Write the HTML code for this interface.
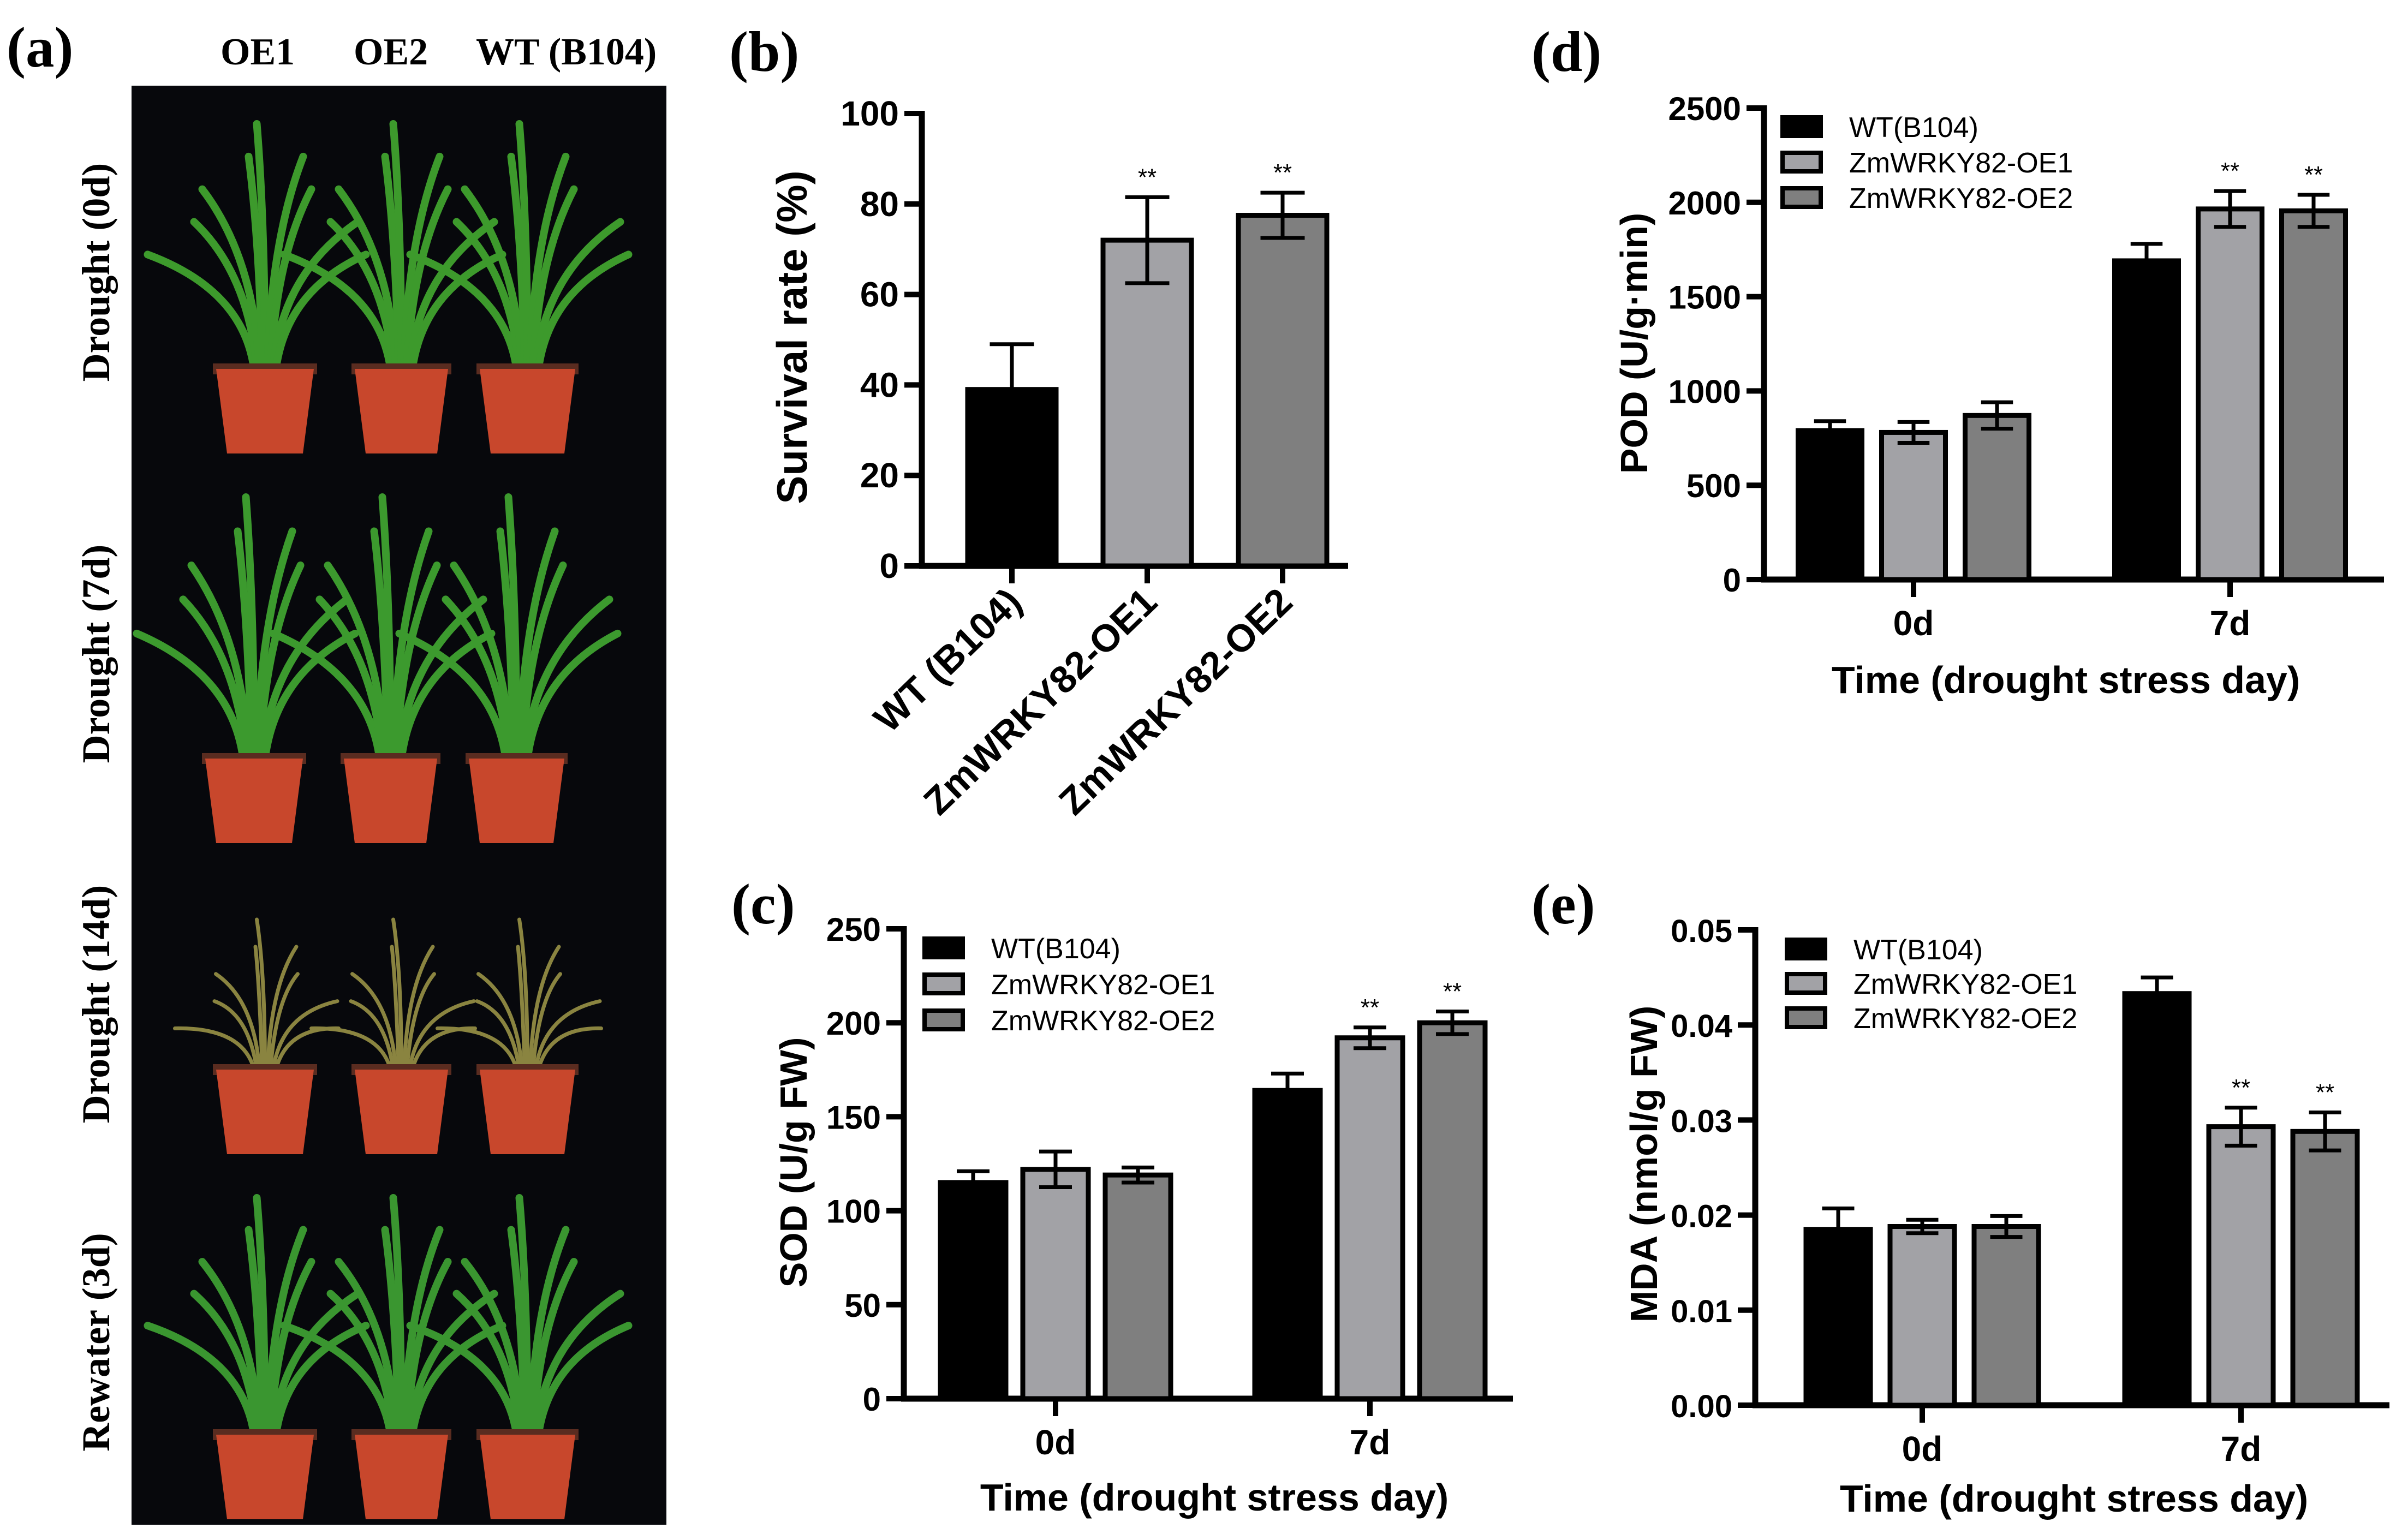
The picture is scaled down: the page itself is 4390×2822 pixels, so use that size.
<!DOCTYPE html>
<html><head><meta charset="utf-8">
<style>
html,body{margin:0;padding:0;background:#fff;}
svg{display:block;}
</style></head>
<body>
<svg id="fig" xmlns="http://www.w3.org/2000/svg" width="4390" height="2822" viewBox="0 0 4390 2822">
<rect width="4390" height="2822" fill="#fff"/>
<g>
<text x="12" y="122" font-family="Liberation Serif, serif" font-weight="bold" font-size="105">(a)</text>
<text x="404" y="118" font-family="Liberation Serif, serif" font-weight="bold" font-size="70">OE1</text>
<text x="648" y="118" font-family="Liberation Serif, serif" font-weight="bold" font-size="70">OE2</text>
<text x="872" y="118" font-family="Liberation Serif, serif" font-weight="bold" font-size="70">WT (B104)</text>
<g id="photos"></g>
</g>
<g id="charts"></g>
</svg>
<script>
// ===== Data =====
const survCats = ["WT (B104)", "ZmWRKY82-OE1", "ZmWRKY82-OE2"];
const survVals = [39, 72, 77.5];
const survErr = [10, 9.5, 5];
const survSig = ["", "**", "**"];
const survTicks = [0, 20, 40, 60, 80, 100];

const timeCats = ["0d", "7d"];
const seriesNames = ["WT(B104)", "ZmWRKY82-OE1", "ZmWRKY82-OE2"];
const sodWT = [115, 164];
const sodOE1 = [122, 192];
const sodOE2 = [119, 200];
const sodErrWT = [6, 9];
const sodErrOE1 = [9.5, 5.5];
const sodErrOE2 = [4, 6];
const sodSig = [["", ""], ["", "**"], ["", "**"]];
const sodTicks = [0, 50, 100, 150, 200, 250];
const podWT = [790, 1690];
const podOE1 = [780, 1965];
const podOE2 = [870, 1955];
const podErrWT = [50, 90];
const podErrOE1 = [55, 95];
const podErrOE2 = [70, 85];
const podSig = [["", ""], ["", "**"], ["", "**"]];
const podTicks = [0, 500, 1000, 1500, 2000, 2500];
const mdaWT = [0.0185, 0.0433];
const mdaOE1 = [0.0188, 0.0293];
const mdaOE2 = [0.0188, 0.0288];
const mdaErrWT = [0.0022, 0.0017];
const mdaErrOE1 = [0.0007, 0.002];
const mdaErrOE2 = [0.0011, 0.002];
const mdaSig = [["", ""], ["", "**"], ["", "**"]];
const mdaTicks = ["0.00", "0.01", "0.02", "0.03", "0.04", "0.05"];

// ===== Rendering =====
const NS = "http://www.w3.org/2000/svg";
const SANS = "Liberation Sans, Arial, sans-serif";
const fills = ["#000000", "#a2a2a6", "#7f7f7f"];
const charts = document.getElementById("charts");
function mk(tag, attrs, parent) {
  const e = document.createElementNS(NS, tag);
  for (const k in attrs) e.setAttribute(k, attrs[k]);
  (parent || charts).appendChild(e);
  return e;
}
function txt(s, attrs, parent) { const t = mk("text", attrs, parent); t.textContent = s; return t; }

function drawAxes(g, c, ticks) {
  const y = v => c.y0 - (v - c.min) / (c.max - c.min) * (c.y0 - c.yTop);
  const ya = mk("line", {x1: c.x0, y1: c.yTop - 5, x2: c.x0, y2: c.y0 + 5, stroke: "#000", "stroke-width": 11}, g);
  
  
  const xa = mk("line", {x1: c.x0 - 5, y1: c.y0, x2: c.xEnd, y2: c.y0, stroke: "#000", "stroke-width": 11}, g);
  
  
  ticks.forEach(t => {
    const v = parseFloat(t);
    const yy = y(v);
    const tl = mk("line", {x1: c.x0 - 32, y1: yy, x2: c.x0, y2: yy, stroke: "#000", "stroke-width": 10}, g);
    
    
    const lb = txt(String(t), {x: c.x0 - 42, y: yy + 22, "text-anchor": "end", "font-family": SANS, "font-weight": "bold", "font-size": c.tickFont || 62}, g);
    
    
  });
  return y;
}
function drawBar(g, x, w, yv, y0, fill, name) {
  const r = mk("rect", {x: x, y: yv, width: w, height: y0 - yv, fill: fill, stroke: "#000", "stroke-width": 9}, g);
  
  
}
function drawErr(g, cx, yHi, yLo, capW) {
  const l = mk("path", {d: `M${cx},${yLo}V${yHi}M${cx - capW / 2},${yHi}H${cx + capW / 2}M${cx - capW / 2},${yLo}H${cx + capW / 2}`, stroke: "#000", "stroke-width": 7, fill: "none"}, g);
  
  
}
function drawSig(g, cx, yy, s) {
  if (!s) return;
  const t = txt(s, {x: cx, y: yy, "text-anchor": "middle", "font-family": SANS, "font-size": 44}, g);
  
  
}

(function () {
  const g = mk("g", {});
  
  
  const pl = txt("(b)", {x: 1336, y: 130, "font-family": "Liberation Serif, serif", "font-weight": "bold", "font-size": 105}, g);
  
  
  const c = {x0: 1689, yTop: 208, y0: 1037, xEnd: 2470, min: 0, max: 100, tickFont: 64};
  const y = drawAxes(g, c, survTicks);
  const first = 1854, pitch = 248, bw = 162;
  survCats.forEach((cat, i) => {
    const cx = first + i * pitch;
    const tk = mk("line", {x1: cx, y1: c.y0, x2: cx, y2: c.y0 + 32, stroke: "#000", "stroke-width": 10}, g);
    
    
    drawBar(g, cx - bw / 2, bw, y(survVals[i]), c.y0, fills[i], 'bar-' + cat.toLowerCase().replace(/[^a-z0-9]+/g, '-'));
    drawErr(g, cx, y(survVals[i] + survErr[i]), y(survVals[i] - survErr[i]), bw / 2);
    drawSig(g, cx, y(survVals[i] + survErr[i]) - 22, survSig[i]);
    const lx = cx + 22, ly = 1108;
    const t = txt(cat, {x: lx, y: ly, "text-anchor": "end", transform: `rotate(-44 ${lx} ${ly})`, "font-family": SANS, "font-weight": "bold", "font-size": 70}, g);
    
    
  });
  const yt = txt("Survival rate (%)", {x: 1478, y: 618, "text-anchor": "middle", transform: "rotate(-90 1478 618)", "font-family": SANS, "font-weight": "bold", "font-size": 78}, g);
  
  
})();

function grouped(cfg) {
  const g = mk("g", {});
  
  
  const pl = txt(cfg.label, {x: cfg.labelX, y: cfg.labelY, "font-family": "Liberation Serif, serif", "font-weight": "bold", "font-size": 105}, g);
  
  
  const c = cfg.axis;
  const y = drawAxes(g, c, cfg.ticks);
  timeCats.forEach((cat, gi) => {
    const gc = cfg.groupX0 + gi * cfg.groupGap;
    const tk = mk("line", {x1: gc, y1: c.y0, x2: gc, y2: c.y0 + 32, stroke: "#000", "stroke-width": 10}, g);
    
    
    const xl = txt(cat, {x: gc, y: c.y0 + 102, "text-anchor": "middle", "font-family": SANS, "font-weight": "bold", "font-size": 64}, g);
    
    
    cfg.series.forEach((vals, si) => {
      const cx = gc + (si - 1) * cfg.pitch;
      const v = vals[gi], e = cfg.errs[si][gi];
      drawBar(g, cx - cfg.bw / 2, cfg.bw, y(v), c.y0, fills[si], 'bar-' + cat + '-' + seriesNames[si].toLowerCase().replace(/[^a-z0-9]+/g, '-'));
      drawErr(g, cx, y(v + e), y(v - e), cfg.bw / 2);
      drawSig(g, cx, y(v + e) - 22, cfg.sig[si][gi]);
    });
  });
  seriesNames.forEach((n, si) => {
    const ly = cfg.legY + si * cfg.legGap;
    const r = mk("rect", {x: cfg.legX, y: ly - 17, width: 70, height: 34, fill: fills[si], stroke: "#000", "stroke-width": 8}, g);
    
    
    const t = txt(n, {x: cfg.legX + 122, y: ly + 19, "font-family": SANS, "font-size": 52}, g);
    
    
  });
  const yt = txt(cfg.ytitle, {x: cfg.ytX, y: cfg.ytY, "text-anchor": "middle", transform: `rotate(-90 ${cfg.ytX} ${cfg.ytY})`, "font-family": SANS, "font-weight": "bold", "font-size": 70}, g);
  
  
  const xt = txt("Time (drought stress day)", {x: cfg.xtX, y: cfg.xtY, "text-anchor": "middle", "font-family": SANS, "font-weight": "bold", "font-size": 70}, g);
  
  
}

grouped({name: "panel-d-pod-chart", label: "(d)", labelX: 2806, labelY: 130,
  axis: {x0: 3232, yTop: 198, y0: 1062, xEnd: 4368, min: 0, max: 2500, tickFont: 60},
  ticks: podTicks, groupX0: 3506, groupGap: 580, pitch: 153, bw: 117,
  series: [podWT, podOE1, podOE2], errs: [podErrWT, podErrOE1, podErrOE2], sig: podSig,
  legX: 3266, legY: 232, legGap: 65, ytitle: "POD (U/g·min)", ytX: 3018, ytY: 629,
  xtX: 3785, xtY: 1270});

grouped({name: "panel-c-sod-chart", label: "(c)", labelX: 1340, labelY: 1692,
  axis: {x0: 1656, yTop: 1702, y0: 2563, xEnd: 2772, min: 0, max: 250, tickFont: 60},
  ticks: sodTicks, groupX0: 1934, groupGap: 576, pitch: 151, bw: 120,
  series: [sodWT, sodOE1, sodOE2], errs: [sodErrWT, sodErrOE1, sodErrOE2], sig: sodSig,
  legX: 1694, legY: 1737, legGap: 66, ytitle: "SOD (U/g FW)", ytX: 1478, ytY: 2130,
  xtX: 2225, xtY: 2768});

grouped({name: "panel-e-mda-chart", label: "(e)", labelX: 2806, labelY: 1692,
  axis: {x0: 3216, yTop: 1704, y0: 2575, xEnd: 4378, min: 0, max: 0.05, tickFont: 58},
  ticks: mdaTicks, groupX0: 3522, groupGap: 584, pitch: 154, bw: 118,
  series: [mdaWT, mdaOE1, mdaOE2], errs: [mdaErrWT, mdaErrOE1, mdaErrOE2], sig: mdaSig,
  legX: 3274, legY: 1739, legGap: 63, ytitle: "MDA (nmol/g FW)", ytX: 3036, ytY: 2133,
  xtX: 3800, xtY: 2770});

(function () {
  const p = document.getElementById("photos");
  const rows = [
    {y: 157, h: 684, name: "Drought (0d)", leaf: "#3d9a2c", dry: false},
    {y: 841, h: 714, name: "Drought (7d)", leaf: "#3c9a2e", dry: false},
    {y: 1555, h: 570, name: "Drought (14d)", leaf: "#8a8440", dry: true},
    {y: 2125, h: 669, name: "Rewater (3d)", leaf: "#3a9630", dry: false}
  ];
  const potX = [[396, 575], [650, 821], [879, 1054]];
  rows.forEach((r, ri) => {
    const bg = mk("rect", {x: 241, y: r.y, width: 980, height: r.h, fill: "#07080c"}, p);
    
    
    const lab = mk("text", {x: 0, y: 0, "text-anchor": "middle", transform: `translate(200 ${r.y + r.h / 2}) rotate(-90)`, "font-family": "Liberation Serif, serif", "font-weight": "bold", "font-size": 72}, p);
    lab.textContent = r.name;
    
    
    const potTop = r.y + r.h - 165, potBot = r.y + r.h - 10;
    potX.forEach((px) => {
      const x1 = px[0] + (ri === 1 ? -20 : 0), x2 = px[1] + (ri === 1 ? -20 : 0);
      const cx = (x1 + x2) / 2;
      const n = 9;
      for (let k = 0; k < n; k++) {
        const a = (k - (n - 1) / 2) / ((n - 1) / 2);
        const tipX = cx + a * (r.dry ? 150 : 200) + (k % 2 ? 20 : -15);
        const tipY = r.y + (r.dry ? 130 : 70) + Math.abs(a) * (r.h * 0.35);
        const lf = mk("path", {d: `M${cx + a * 20},${potTop} Q${cx + a * 40},${(potTop + tipY) / 2 - 40} ${tipX},${tipY}`, stroke: r.leaf, "stroke-width": r.dry ? 7 : 14, fill: "none", "stroke-linecap": "round"}, p);
        
        
      }
      const rim = mk("rect", {x: x1 - 6, y: potTop - 10, width: x2 - x1 + 12, height: 20, fill: "#5a2c20"}, p);
      
      
      const pot = mk("path", {d: `M${x1},${potTop} L${x2},${potTop} L${x2 - 20},${potBot} L${x1 + 20},${potBot} Z`, fill: "#c8472c"}, p);
      
      
    });
  });
})();
</script>
</body></html>
